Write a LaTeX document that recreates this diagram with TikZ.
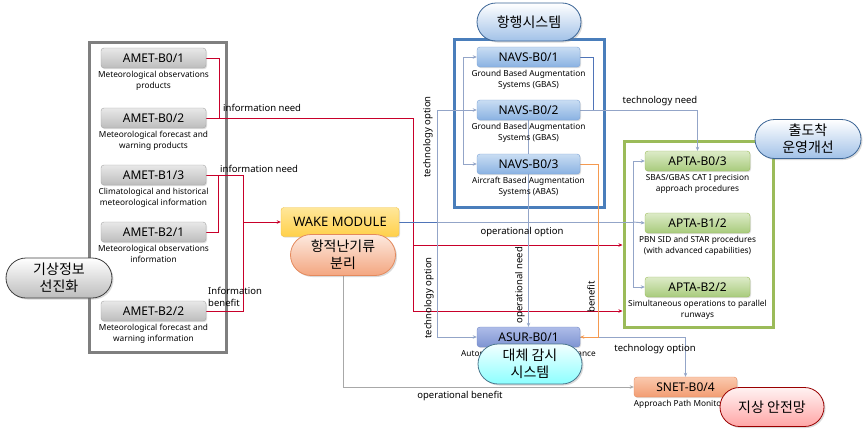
\documentclass[tikz,border=0pt]{standalone}
\usepackage{fontspec}
\setmainfont{Noto Sans}
\newfontfamily\kr{Noto Sans CJK KR}
\usetikzlibrary{shapes.misc,arrows.meta,shadows}
\pgfdeclarelayer{bg}
\pgfdeclarelayer{edges}
\pgfsetlayers{bg,edges,main}
\definecolor{ametT}{HTML}{E8E8E8}\definecolor{ametB}{HTML}{BDBDBD}\definecolor{ametD}{HTML}{A6A6A6}
\definecolor{navsT}{HTML}{C9DDF3}\definecolor{navsB}{HTML}{8AB2E2}\definecolor{navsD}{HTML}{7CA3D6}
\definecolor{aptaT}{HTML}{DDEBC8}\definecolor{aptaB}{HTML}{A8CB7C}\definecolor{aptaD}{HTML}{9BBB59}
\definecolor{asurT}{HTML}{AEBCE8}\definecolor{asurB}{HTML}{7E94D2}\definecolor{asurD}{HTML}{6F86C6}
\definecolor{snetT}{HTML}{FAC9AE}\definecolor{snetB}{HTML}{F29C72}\definecolor{snetD}{HTML}{E48A5D}
\definecolor{wakeT}{HTML}{FFE79A}\definecolor{wakeB}{HTML}{FFD04A}\definecolor{wakeD}{HTML}{F2C040}
\definecolor{redL}{HTML}{C8002A}
\definecolor{steelL}{HTML}{93A5C8}
\definecolor{steelD}{HTML}{4F74B8}
\definecolor{orangeL}{HTML}{F59A50}
\definecolor{grayL}{HTML}{A8A8A8}
\definecolor{frameG}{HTML}{7F7F7F}
\definecolor{frameB}{HTML}{4A7EBB}
\definecolor{frameV}{HTML}{9BBB59}
\tikzset{
  box/.style={rounded corners=3pt, minimum width=105pt, minimum height=20pt, inner sep=0pt,
    font=\fontsize{12}{12}\selectfont, line width=0.4pt,
    drop shadow={opacity=0.25,shadow xshift=1pt,shadow yshift=-1.2pt}},
  ametbox/.style={box, top color=ametT, bottom color=ametB, draw=ametD},
  navsbox/.style={box, minimum width=103pt, top color=navsT, bottom color=navsB, draw=navsD},
  aptabox/.style={box, top color=aptaT, bottom color=aptaB, draw=aptaD},
  asurbox/.style={box, minimum width=103pt, top color=asurT, bottom color=asurB, draw=asurD},
  snetbox/.style={box, minimum width=103pt, top color=snetT, bottom color=snetB, draw=snetD},
  wakebox/.style={box, minimum width=118pt, minimum height=29pt, font=\fontsize{13}{13}\selectfont, top color=wakeT, bottom color=wakeB, draw=wakeD},
  desc/.style={font=\fontsize{8.3}{11}\selectfont, align=center, inner sep=0pt, anchor=north},
  lbl/.style={font=\fontsize{9.5}{11}\selectfont, inner sep=0pt},
  frame/.style={draw, line width=3pt, fill=white},
  pill/.style={rounded rectangle, minimum width=106pt, minimum height=39pt, inner sep=1pt,
    font=\kr\fontsize{14}{17}\selectfont, align=center, line width=0.8pt,
    drop shadow={opacity=0.3,shadow xshift=1.5pt,shadow yshift=-1.5pt}},
  conn/.style={line width=0.9pt},
  tip/.style={-{Stealth[length=4pt,width=3.5pt]}},
}
\begin{document}
\begin{tikzpicture}[x=1pt,y=-1pt]
\useasboundingbox (0,0) rectangle (866,434);
% frames
\begin{pgfonlayer}{bg}
\node[frame, draw=frameG, minimum width=137pt, minimum height=310pt, drop shadow={opacity=0.3,shadow xshift=1.5pt,shadow yshift=-1.5pt}] (grayframe) at (157.5,197) {};
\node[frame, draw=frameB, minimum width=150pt, minimum height=168pt] (blueframe) at (529,123) {};
\node[frame, draw=frameV, minimum width=149pt, minimum height=186pt] (greenframe) at (698.5,234) {};
\end{pgfonlayer}
% AMET boxes
\node[ametbox] (b01) at (153.5,58) {AMET-B0/1};
\node[desc] (d01) at ([yshift=-3pt]b01.south) {Meteorological observations\\products};
\node[ametbox] (b02) at (153.5,118) {AMET-B0/2};
\node[desc] (d02) at ([yshift=-3pt]b02.south) {Meteorological forecast and\\warning products};
\node[ametbox] (b13) at (153.5,175) {AMET-B1/3};
\node[desc] (d13) at ([yshift=-3pt]b13.south) {Climatological and historical\\meteorological information};
\node[ametbox] (b21) at (153.5,232) {AMET-B2/1};
\node[desc] (d21) at ([yshift=-3pt]b21.south) {Meteorological observations\\information};
\node[ametbox] (b22) at (153.5,311) {AMET-B2/2};
\node[desc] (d22) at ([yshift=-3pt]b22.south) {Meteorological forecast and\\warning information};
% NAVS
\node[navsbox] (navs1) at (528.5,57) {NAVS-B0/1};
\node[desc] (dn1) at ([yshift=-3pt]navs1.south) {Ground Based Augmentation\\Systems (GBAS)};
\node[navsbox] (navs2) at (528.5,110) {NAVS-B0/2};
\node[desc] (dn2) at ([yshift=-3pt]navs2.south) {Ground Based Augmentation\\Systems (GBAS)};
\node[navsbox] (navs3) at (528.5,164) {NAVS-B0/3};
\node[desc] (dn3) at ([yshift=-3pt]navs3.south) {Aircraft Based Augmentation\\Systems (ABAS)};
% APTA
\node[aptabox] (apta3) at (697.5,161) {APTA-B0/3};
\node[desc] (da3) at ([yshift=-3pt]apta3.south) {SBAS/GBAS CAT I precision\\approach procedures};
\node[aptabox] (apta12) at (697.5,223) {APTA-B1/2};
\node[desc] (da12) at ([yshift=-3pt]apta12.south) {PBN SID and STAR procedures\\(with advanced capabilities)};
\node[aptabox] (apta22) at (697.5,287) {APTA-B2/2};
\node[desc] (da22) at ([yshift=-3pt]apta22.south) {Simultaneous operations to parallel\\runways};
% others
\node[asurbox] (asur) at (528.5,337) {ASUR-B0/1};
\node[desc] (dasur) at ([yshift=-3pt]asur.south) {Automatic Dependent Surveillance};
\node[snetbox] (snet) at (685.5,387) {SNET-B0/4};
\node[desc] (dsnet) at ([yshift=-3pt]snet.south) {Approach Path Monitoring};
\node[wakebox] (wake) at (340,222) {WAKE MODULE};
% junction coordinates
\coordinate (jA) at (219,118);
\coordinate (rc) at (413,118);
\coordinate (re) at (413,245);
\coordinate (rd) at (413,311);
\coordinate (k1) at (243,175);
\coordinate (k2) at (243,311);
\coordinate (k3) at (243,222);
\coordinate (k4) at (218,175);
\coordinate (t1) at (437,222);
\coordinate (t2) at (437,110);
\coordinate (t3) at (437,337);
\coordinate (n1) at (463,110);
\coordinate (m1) at (593,110);
\coordinate (u1) at (633,222);
\coordinate (o1) at (598,250);
\begin{pgfonlayer}{edges}
% red nets
\draw[conn, redL] (b01.east) -| (jA);
\draw[conn, redL, tip] (b02.east) -- (rc) -- (rd) -- (rd -| greenframe.west);
\draw[conn, redL, tip] (re) -- (re -| greenframe.west);
\draw[conn, redL] (b13.east) -- (k1) -- (k2) -- (b22.east);
\draw[conn, redL] (b21.east) -| (k4);
\draw[conn, redL, tip] (k3) -- (wake.west);
% steel nets
\draw[conn, steelL] (t1) -- (u1);
\draw[conn, steelD] (wake.east) -- (t1);
\draw[conn, steelL, tip] (t1) -- (t2) -- (navs2.west);
\draw[conn, steelL, tip] (t1) -- (t3) -- (asur.west);
\draw[conn, steelL, tip] (u1) -- (apta12.west);
\draw[conn, steelL, tip] (u1) |- (apta3.west);
\draw[conn, steelL, tip] (u1) |- (apta22.west);
\draw[conn, steelL, tip] (n1) |- (navs1.west);
\draw[conn, steelL, tip] (n1) |- (navs3.west);
\draw[conn, steelD] (navs1.east) -| (m1);
\draw[conn, steelL, tip] (navs2.east) -| (apta3.north);
\draw[conn, steelL, tip] (navs2.south) -- (asur.north);
\draw[conn, steelL, tip] (asur.east) -| (snet.north);
\draw[conn, orangeL, tip] (navs3.east) -| (o1) |- (asur.east);
\draw[conn, grayL, tip] (343,260) |- (snet.west);
\end{pgfonlayer}
% labels
\node[lbl, anchor=west] (l1) at (223,108) {information need};
\node[lbl, anchor=west] (l2) at (220,169) {information need};
\node[lbl, anchor=west, align=left, font=\fontsize{9.5}{11.5}\selectfont] (l3) at (208,297) {Information\\benefit};
\node[lbl, rotate=90] (l4) at (428,137) {technology option};
\node[lbl, rotate=90] (l5) at (429,298) {technology option};
\node[lbl, rotate=90] (l6) at (520,285) {operational need};
\node[lbl, rotate=90] (l7) at (591,297) {benefit};
\node[lbl] (l8) at (522,232) {operational option};
\node[lbl] (l9) at (660,101) {technology need};
\node[lbl] (l10) at (655,349) {technology option};
\node[lbl] (l11) at (460,396) {operational benefit};
% pills
\node[pill, minimum width=108pt, minimum height=40pt, top color=white, bottom color=ametB, draw=black!75] (p1) at (59,278) {기상정보\\선진화};
\node[pill, minimum height=38pt, top color=white, bottom color=navsB!80, draw=frameB!80!black] (p2) at (529,22) {항행시스템};
\node[pill, minimum width=108pt, top color=white, bottom color=navsB!80, draw=frameB!80!black] (p3) at (808,139) {출도착\\운영개선};
\node[pill, minimum width=107pt, minimum height=41pt, top color=snetT!40, bottom color=snetB!90, draw=snetD] (p4) at (343,255) {항적난기류\\분리};
\node[pill, minimum height=40pt, top color=cyan!5, bottom color=cyan!45, draw=cyan!50!black] (p5) at (530,364) {대체 감시\\시스템};
\node[pill, top color=red!5, bottom color=red!35, draw=red!60!black] (p6) at (772,407) {지상 안전망};
\end{tikzpicture}
\end{document}
